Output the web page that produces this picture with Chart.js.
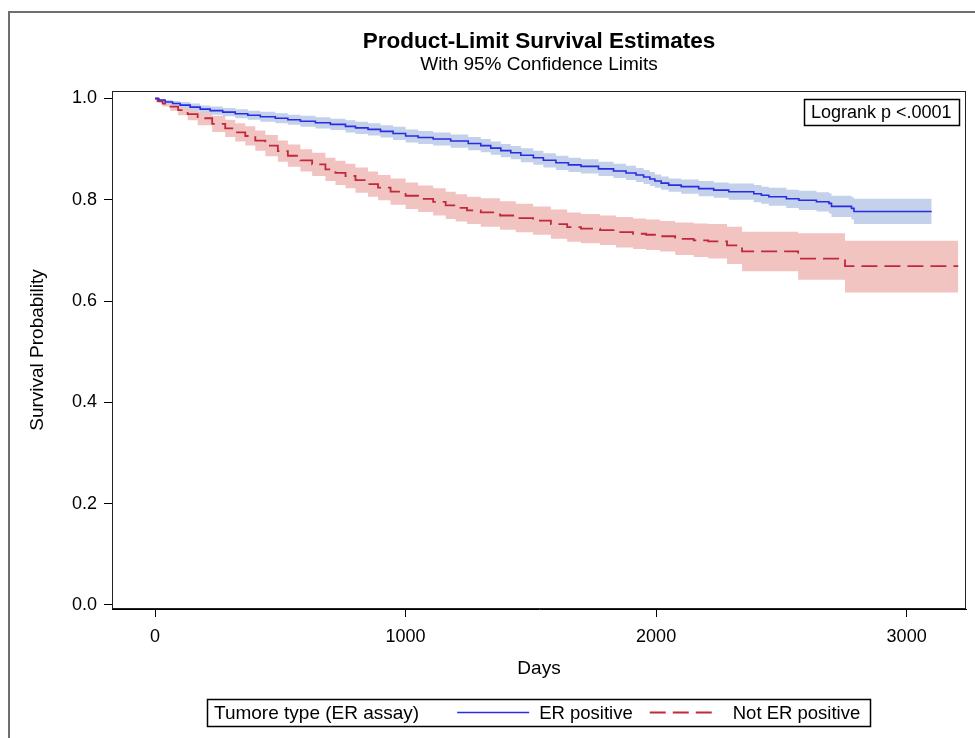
<!DOCTYPE html>
<html>
<head>
<meta charset="utf-8">
<script src="https://cdn.jsdelivr.net/npm/chart.js@4.4.1/dist/chart.umd.min.js"></script>
<style>
html,body{margin:0;padding:0;background:#fff;}
#wrap{position:relative;width:975px;height:738px;}
</style>
</head>
<body>
<div id="wrap"><canvas id="c" width="975" height="738"></canvas></div>
<script>
const titleText = 'Product-Limit Survival Estimates';
const subtitleText = 'With 95% Confidence Limits';
const xAxisTitle = 'Days';
const yAxisTitle = 'Survival Probability';
const legendTitle = 'Tumore type (ER assay)';
const seriesNames = ['ER positive', 'Not ER positive'];
const insetText = 'Logrank p <.0001';
const xTicks = [0, 1000, 2000, 3000];
const yTicks = [0, 0.2, 0.4, 0.6, 0.8, 1.0];

// ER positive
const erDays  = [0,15,40,70,100,140,180,220,270,320,370,420,480,530,580,640,700,760,800,850,900,950,1000,1050,1110,1180,1250,1300,1340,1380,1420,1460,1510,1550,1600,1650,1700,1770,1830,1880,1920,1950,1975,1995,2020,2050,2100,2170,2230,2290,2390,2420,2450,2520,2570,2640,2690,2700,2780,2790,3100];
const erSurv  = [1.000,0.997,0.993,0.990,0.987,0.983,0.979,0.976,0.973,0.970,0.967,0.964,0.961,0.958,0.955,0.952,0.949,0.945,0.942,0.939,0.935,0.931,0.926,0.923,0.920,0.916,0.911,0.907,0.902,0.897,0.893,0.888,0.883,0.878,0.873,0.869,0.866,0.861,0.857,0.853,0.849,0.845,0.841,0.837,0.833,0.829,0.826,0.822,0.819,0.816,0.812,0.809,0.806,0.802,0.799,0.796,0.793,0.787,0.783,0.777,0.777];
const erUpper = [1.000,0.999,0.997,0.995,0.993,0.990,0.986,0.984,0.981,0.979,0.976,0.974,0.971,0.968,0.966,0.963,0.960,0.957,0.954,0.951,0.947,0.944,0.939,0.936,0.933,0.929,0.924,0.920,0.915,0.910,0.906,0.902,0.897,0.892,0.887,0.883,0.880,0.875,0.871,0.867,0.863,0.859,0.855,0.850,0.846,0.842,0.840,0.837,0.834,0.832,0.829,0.826,0.824,0.820,0.818,0.815,0.813,0.808,0.805,0.802,0.802];
const erLower = [1.000,0.995,0.989,0.985,0.981,0.976,0.972,0.968,0.965,0.961,0.958,0.954,0.951,0.948,0.944,0.941,0.938,0.933,0.930,0.927,0.923,0.918,0.913,0.910,0.907,0.903,0.898,0.894,0.889,0.884,0.880,0.874,0.869,0.864,0.859,0.855,0.852,0.847,0.843,0.839,0.835,0.831,0.827,0.824,0.820,0.816,0.812,0.807,0.804,0.800,0.795,0.792,0.788,0.784,0.780,0.777,0.773,0.766,0.761,0.752,0.752];

// Not ER positive
const nerDays  = [0,10,30,60,92,130,170,228,280,320,360,400,440,490,530,580,627,680,720,760,800,850,890,940,1000,1050,1110,1160,1200,1245,1300,1377,1440,1509,1580,1645,1700,1776,1840,1908,1960,2016,2076,2150,2208,2283,2343,2567,2754,3206];
const nerSurv  = [1.000,0.995,0.990,0.984,0.977,0.969,0.961,0.950,0.941,0.933,0.926,0.917,0.907,0.896,0.887,0.878,0.870,0.860,0.853,0.847,0.839,0.831,0.824,0.816,0.808,0.802,0.796,0.789,0.784,0.779,0.775,0.769,0.764,0.759,0.752,0.746,0.743,0.740,0.736,0.733,0.731,0.728,0.723,0.720,0.718,0.710,0.698,0.684,0.669,0.669];
const nerUpper = [1.000,0.999,0.996,0.992,0.987,0.981,0.975,0.966,0.958,0.951,0.945,0.937,0.928,0.917,0.909,0.900,0.893,0.883,0.877,0.871,0.864,0.856,0.849,0.842,0.834,0.828,0.823,0.816,0.811,0.806,0.803,0.797,0.792,0.787,0.781,0.775,0.772,0.769,0.766,0.763,0.761,0.758,0.755,0.753,0.752,0.747,0.737,0.734,0.719,0.719];
const nerLower = [1.000,0.991,0.984,0.976,0.967,0.957,0.947,0.934,0.924,0.915,0.907,0.897,0.886,0.875,0.865,0.856,0.847,0.837,0.829,0.823,0.814,0.806,0.799,0.790,0.782,0.776,0.769,0.762,0.757,0.752,0.747,0.741,0.736,0.731,0.723,0.717,0.714,0.711,0.706,0.703,0.701,0.698,0.691,0.687,0.684,0.673,0.659,0.642,0.617,0.617];

const FONT = "'Liberation Sans', Arial, Helvetica, sans-serif";
const pts = (xs, ys) => xs.map((x, i) => ({x: x, y: ys[i]}));

const decor = {
  id: 'decor',
  beforeDraw(chart) {
    const ctx = chart.ctx;
    ctx.save();
    ctx.fillStyle = '#ffffff';
    ctx.fillRect(0, 0, chart.width, chart.height);
    ctx.strokeStyle = '#6e6e6e';
    ctx.lineWidth = 2;
    ctx.beginPath();
    ctx.moveTo(9, chart.height + 5);
    ctx.lineTo(9, 12);
    ctx.lineTo(chart.width + 5, 12);
    ctx.stroke();
    ctx.restore();
  },
  afterDraw(chart) {
    const ctx = chart.ctx;
    const a = chart.chartArea;
    const cx = (a.left + a.right) / 2;
    ctx.save();
    // plot frame
    ctx.strokeStyle = '#222';
    ctx.lineWidth = 1;
    ctx.strokeRect(Math.round(a.left) + 0.5, Math.round(a.top) + 0.5, Math.round(a.right - a.left) - 1, Math.round(a.bottom - a.top) - 1);
    // titles
    ctx.fillStyle = '#000';
    ctx.textAlign = 'center';
    ctx.textBaseline = 'middle';
    ctx.font = 'bold 22.5px ' + FONT;
    ctx.fillText(titleText, cx, 42);
    ctx.font = '19px ' + FONT;
    ctx.fillText(subtitleText, cx, 65);
    // inset box
    ctx.font = '18px ' + FONT;
    const iw = ctx.measureText(insetText).width;
    const bx1 = Math.round(a.right - 7);
    const bx0 = Math.round(bx1 - iw - 14);
    const by0 = Math.round(a.top + 8);
    ctx.strokeStyle = '#000';
    ctx.lineWidth = 1.5;
    ctx.strokeRect(bx0 + 0.5, by0 + 0.5, bx1 - bx0, 26);
    ctx.textAlign = 'left';
    ctx.fillText(insetText, bx0 + 7, by0 + 14);
    // legend
    const ds = chart.data.datasets;
    const erDs = ds[4], nerDs = ds[5];
    const titleFont = '19px ' + FONT;
    const itemFont = '18.5px ' + FONT;
    ctx.font = titleFont;
    const wT = ctx.measureText(legendTitle).width;
    ctx.font = itemFont;
    const w1 = ctx.measureText(seriesNames[0]).width;
    const w2 = ctx.measureText(seriesNames[1]).width;
    const gapT = 38;
    const total = 7 + wT + gapT + 72 + 10 + w1 + 17 + 66 + 17 + w2 + 10;
    let x = Math.round(cx - total / 2);
    const ly0 = 699, ly1 = 726, lyc = 712.5;
    ctx.strokeStyle = '#000';
    ctx.lineWidth = 1.5;
    ctx.strokeRect(x + 0.5, ly0 + 0.5, Math.round(total), ly1 - ly0);
    let px = x + 7;
    ctx.fillStyle = '#000';
    ctx.font = titleFont;
    ctx.fillText(legendTitle, px, lyc + 1);
    ctx.font = itemFont;
    px += wT + gapT;
    ctx.strokeStyle = erDs.borderColor;
    ctx.lineWidth = erDs.borderWidth;
    ctx.setLineDash([]);
    ctx.beginPath(); ctx.moveTo(px, lyc); ctx.lineTo(px + 72, lyc); ctx.stroke();
    px += 72 + 10;
    ctx.fillText(seriesNames[0], px, lyc + 1);
    px += w1 + 17;
    ctx.strokeStyle = nerDs.borderColor;
    ctx.lineWidth = nerDs.borderWidth;
    ctx.setLineDash(nerDs.borderDash);
    ctx.beginPath(); ctx.moveTo(px, lyc); ctx.lineTo(px + 66, lyc); ctx.stroke();
    ctx.setLineDash([]);
    px += 66 + 17;
    ctx.fillText(seriesNames[1], px, lyc + 1);
    ctx.restore();
  }
};

const blueLine = '#2b2be3';
const redLine = '#c0283c';
const blueBand = '#c4d1ea';
const redBand = '#f1c4c2';

new Chart(document.getElementById('c'), {
  type: 'line',
  data: {
    datasets: [
      {label: 'ER upper', data: pts(erDays, erUpper), stepped: 'before', borderWidth: 0, borderColor: 'rgba(0,0,0,0)', backgroundColor: blueBand, pointRadius: 0, fill: '+1', order: 2},
      {label: 'ER lower', data: pts(erDays, erLower), stepped: 'before', borderWidth: 0, borderColor: 'rgba(0,0,0,0)', pointRadius: 0, fill: false, order: 2},
      {label: 'Not upper', data: pts(nerDays, nerUpper), stepped: 'before', borderWidth: 0, borderColor: 'rgba(0,0,0,0)', backgroundColor: redBand, pointRadius: 0, fill: '+1', order: 3},
      {label: 'Not lower', data: pts(nerDays, nerLower), stepped: 'before', borderWidth: 0, borderColor: 'rgba(0,0,0,0)', pointRadius: 0, fill: false, order: 3},
      {label: seriesNames[0], data: pts(erDays, erSurv), stepped: 'before', borderWidth: 1.6, borderColor: blueLine, pointRadius: 0, fill: false, order: 0},
      {label: seriesNames[1], data: pts(nerDays, nerSurv), stepped: 'before', borderWidth: 1.8, borderColor: redLine, borderDash: [16, 7], pointRadius: 0, fill: false, order: 1}
    ]
  },
  options: {
    responsive: false,
    animation: false,
    devicePixelRatio: 1,
    layout: {padding: {left: 0, right: 9, top: 91, bottom: 54}},
    plugins: {legend: {display: false}, title: {display: false}, tooltip: {enabled: false}},
    scales: {
      x: {
        type: 'linear',
        min: -172, max: 3237,
        afterBuildTicks: s => { s.ticks = xTicks.map(v => ({value: v})); },
        afterFit: s => { s.height = 75; },
        grid: {display: true, drawOnChartArea: false, drawTicks: true, tickLength: 8, color: '#000', lineWidth: 1},
        border: {display: true, color: '#000', width: 1},
        ticks: {color: '#000', padding: 9, maxRotation: 0, font: {family: FONT, size: 18}, callback: v => String(v)},
        title: {display: true, text: xAxisTitle, color: '#000', font: {family: FONT, size: 19}, padding: {top: 0, bottom: 4}}
      },
      y: {
        type: 'linear',
        min: -0.0079, max: 1.0148,
        afterBuildTicks: s => { s.ticks = yTicks.map(v => ({value: v})); },
        afterFit: s => { s.width = 112; },
        grid: {display: true, drawOnChartArea: false, drawTicks: true, tickLength: 8, color: '#000', lineWidth: 1},
        border: {display: true, color: '#000', width: 1},
        ticks: {color: '#000', padding: 7, font: {family: FONT, size: 18}, callback: v => Number(v).toFixed(1)},
        title: {display: true, text: yAxisTitle, color: '#000', font: {family: FONT, size: 19}, padding: {top: 26, bottom: 0}}
      }
    }
  },
  plugins: [decor]
});
</script>
</body>
</html>
